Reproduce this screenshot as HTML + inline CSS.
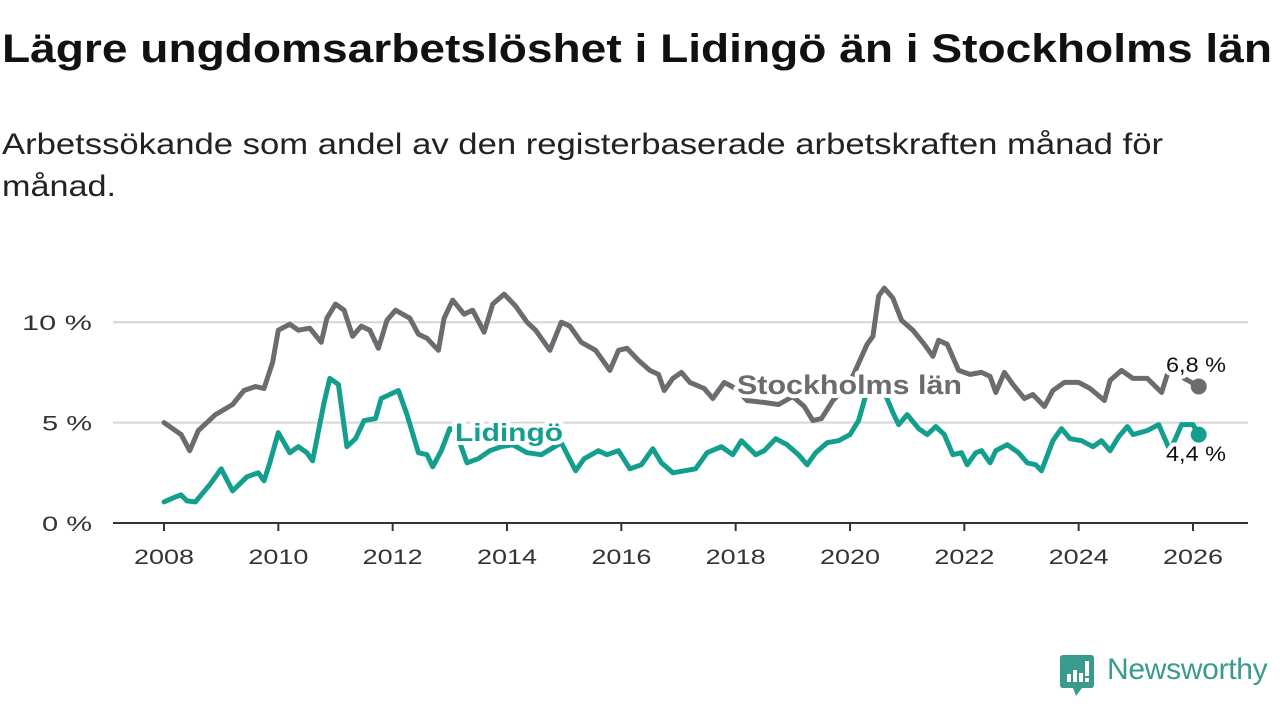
<!DOCTYPE html>
<html><head><meta charset="utf-8">
<style>
body{margin:0;width:1280px;height:720px;background:#fff;font-family:"Liberation Sans",sans-serif;overflow:hidden;position:relative}
.fit{position:absolute;margin:0;white-space:nowrap;transform-origin:0 0}
#title{left:2px;top:27px;font-size:40px;font-weight:bold;color:#111}
#sub1{left:2px;top:128px;font-size:30px;color:#222}
#sub2{left:2px;top:170px;font-size:30px;color:#222}
svg{position:absolute;left:0;top:0}
</style></head><body>
<h1 id="title" class="fit" data-w="1270">Lägre ungdomsarbetslöshet i Lidingö än i Stockholms län</h1>
<p id="sub1" class="fit" data-w="1161">Arbetssökande som andel av den registerbaserade arbetskraften månad för</p>
<p id="sub2" class="fit" data-w="114">månad.</p>
<svg id="chart" width="1280" height="720"></svg>
<div style="position:absolute;left:1060px;top:655px;">
<svg width="36" height="42" style="position:absolute;left:0;top:0">
<path d="M3 0H31Q34 0 34 3V30Q34 33 31 33H22L16 41L13 33H3Q0 33 0 30V3Q0 0 3 0Z" fill="#3a9a8e"/>
<rect x="7" y="19" width="4" height="8" fill="#fff"/><rect x="13" y="15" width="4" height="12" fill="#fff"/><rect x="19" y="18" width="4" height="9" fill="#fff"/><rect x="25" y="6" width="4" height="15" fill="#fff"/><rect x="25" y="23" width="4" height="4" fill="#fff"/>
</svg>
<span style="position:absolute;left:47px;top:-2px;font-size:30px;color:#3a9a8e;white-space:nowrap;letter-spacing:-0.3px">Newsworthy</span>
</div>
<script>
const ticksX=[2008,2010,2012,2014,2016,2018,2020,2022,2024,2026];
const ticksY=[0,5,10];
const stoT=[2008.0,2008.3,2008.45,2008.6,2008.9,2009.2,2009.4,2009.6,2009.75,2009.9,2010.0,2010.2,2010.35,2010.55,2010.75,2010.85,2011.0,2011.15,2011.3,2011.45,2011.6,2011.75,2011.9,2012.05,2012.3,2012.45,2012.6,2012.8,2012.9,2013.05,2013.25,2013.4,2013.6,2013.75,2013.95,2014.15,2014.35,2014.5,2014.75,2014.95,2015.1,2015.3,2015.55,2015.8,2015.95,2016.1,2016.3,2016.5,2016.65,2016.75,2016.9,2017.05,2017.2,2017.45,2017.6,2017.8,2018.0,2018.2,2018.5,2018.75,2019.0,2019.2,2019.35,2019.5,2019.7,2020.0,2020.3,2020.4,2020.5,2020.6,2020.75,2020.9,2021.1,2021.3,2021.45,2021.55,2021.7,2021.9,2022.1,2022.3,2022.45,2022.55,2022.7,2022.85,2023.05,2023.2,2023.4,2023.55,2023.75,2024.0,2024.2,2024.45,2024.55,2024.75,2024.95,2025.2,2025.45,2025.55,2025.65,2025.85,2026.1];
const stoV=[5.0,4.4,3.6,4.6,5.4,5.9,6.6,6.8,6.7,8.0,9.6,9.9,9.6,9.7,9.0,10.2,10.9,10.6,9.3,9.8,9.6,8.7,10.1,10.6,10.2,9.4,9.2,8.6,10.2,11.1,10.4,10.6,9.5,10.9,11.4,10.8,10.0,9.6,8.6,10.0,9.8,9.0,8.6,7.6,8.6,8.7,8.1,7.6,7.4,6.6,7.2,7.5,7.0,6.7,6.2,7.0,6.7,6.1,6.0,5.9,6.3,5.8,5.1,5.2,6.1,7.0,8.9,9.3,11.3,11.7,11.2,10.1,9.6,8.9,8.3,9.1,8.9,7.6,7.4,7.5,7.3,6.5,7.5,6.9,6.2,6.4,5.8,6.6,7.0,7.0,6.7,6.1,7.1,7.6,7.2,7.2,6.5,7.4,7.9,7.2,6.8];
const lidT=[2008.0,2008.2,2008.3,2008.4,2008.55,2008.8,2009.0,2009.2,2009.45,2009.65,2009.75,2009.85,2010.0,2010.2,2010.35,2010.5,2010.6,2010.8,2010.9,2011.05,2011.2,2011.35,2011.5,2011.7,2011.8,2011.95,2012.1,2012.25,2012.45,2012.6,2012.7,2012.85,2013.0,2013.1,2013.3,2013.5,2013.7,2013.9,2014.1,2014.35,2014.6,2014.95,2015.2,2015.35,2015.6,2015.75,2015.95,2016.15,2016.35,2016.55,2016.7,2016.9,2017.1,2017.3,2017.5,2017.75,2017.95,2018.1,2018.35,2018.5,2018.7,2018.9,2019.1,2019.25,2019.4,2019.6,2019.8,2020.0,2020.15,2020.3,2020.5,2020.75,2020.85,2021.0,2021.2,2021.35,2021.5,2021.65,2021.8,2021.95,2022.05,2022.2,2022.3,2022.45,2022.55,2022.75,2022.95,2023.1,2023.25,2023.35,2023.55,2023.7,2023.85,2024.05,2024.25,2024.4,2024.55,2024.7,2024.85,2024.95,2025.2,2025.4,2025.6,2025.8,2026.0,2026.1];
const lidV=[1.05,1.3,1.4,1.1,1.05,1.9,2.7,1.6,2.3,2.5,2.1,3.0,4.5,3.5,3.8,3.5,3.1,6.0,7.2,6.9,3.8,4.2,5.1,5.2,6.2,6.4,6.6,5.4,3.5,3.4,2.8,3.6,4.7,4.6,3.0,3.2,3.6,3.8,3.9,3.5,3.4,4.0,2.6,3.2,3.6,3.4,3.6,2.7,2.9,3.7,3.0,2.5,2.6,2.7,3.5,3.8,3.4,4.1,3.4,3.6,4.2,3.9,3.4,2.9,3.5,4.0,4.1,4.4,5.1,6.6,7.2,5.5,4.9,5.4,4.7,4.4,4.8,4.4,3.4,3.5,2.9,3.5,3.6,3.0,3.6,3.9,3.5,3.0,2.9,2.6,4.1,4.7,4.2,4.1,3.8,4.1,3.6,4.3,4.8,4.4,4.6,4.9,3.6,4.9,4.9,4.4];
document.querySelectorAll('.fit').forEach(e=>{const w=e.getBoundingClientRect().width;e.style.transform='scaleX('+(+e.dataset.w/w)+')';});
const NS='http://www.w3.org/2000/svg';
const svg=document.getElementById('chart');
const x=t=>164+(t-2008)*(1193-164)/18;
const y=v=>523-v*20.08;
function el(tag,attrs,parent){const e=document.createElementNS(NS,tag);for(const k in attrs)e.setAttribute(k,attrs[k]);(parent||svg).appendChild(e);return e;}
ticksY.forEach(v=>{
  if(v>0){const g=el('line',{x1:113,x2:1248,y1:y(v),y2:y(v),stroke:'#d6d6d6','stroke-width':2});
  
  }
  const t=el('text',{x:92,y:y(v)+8,'text-anchor':'end','font-size':21,fill:'#333','font-family':'Liberation Sans',textLength:(v>=10?70:50),lengthAdjust:'spacingAndGlyphs'});
  t.textContent=v+' %';
  
  
});
const ax=el('line',{x1:113,x2:1248,y1:523,y2:523,stroke:'#333','stroke-width':2});


ticksX.forEach(t=>{
  const tk=el('line',{x1:x(t),x2:x(t),y1:523,y2:531,stroke:'#333','stroke-width':2});
  
  
  const l=el('text',{x:x(t)-30,y:564,'font-size':21,fill:'#333','font-family':'Liberation Sans',textLength:60,lengthAdjust:'spacingAndGlyphs'});
  l.textContent=t;
  
  
});
function line(T,V,color,name){
  const d=T.map((t,i)=>(i?'L':'M')+x(t).toFixed(1)+' '+y(V[i]).toFixed(1)).join(' ');
  const p=el('path',{d:d,fill:'none',stroke:color,'stroke-width':5,'stroke-linejoin':'round','stroke-linecap':'round'});
  
  
  const c=el('circle',{cx:x(T[T.length-1]),cy:y(V[V.length-1]),r:8,fill:color});
  
  
}
line(stoT,stoV,'#6b6b70','stockholm-line');
line(lidT,lidV,'#149e8e','lidingo-line');
function label(txt,xx,yy,color,size,bold,name,len){
  const t=el('text',{x:xx,y:yy,'font-size':size,fill:color,'font-weight':bold?'bold':'normal','font-family':'Liberation Sans',stroke:'#fff','stroke-width':8,'paint-order':'stroke','stroke-linejoin':'round',textLength:len,lengthAdjust:'spacingAndGlyphs'});
  t.textContent=txt;
  
  
}
label('Stockholms län',737,394,'#6b6b70',27,true,'stockholm-label',225);
label('Lidingö',455,441,'#149e8e',25,true,'lidingo-label',108);
label('6,8 %',1166,372,'#111',21,false,'stockholm-end-value',60);
label('4,4 %',1166,461,'#111',21,false,'lidingo-end-value',60);
</script>
</body></html>
